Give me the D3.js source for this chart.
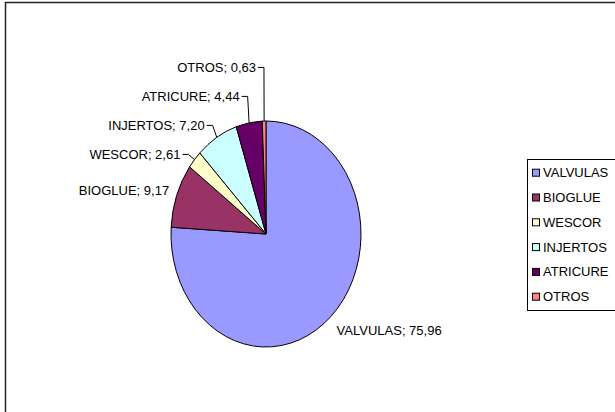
<!DOCTYPE html>
<html>
<head>
<meta charset="utf-8">
<script src="https://cdn.jsdelivr.net/npm/d3@7"></script>
<style>
  body { margin: 0; background: #fff; }
  text { font-family: "Liberation Sans", Arial, sans-serif; font-size: 13px; fill: #000; }
</style>
</head>
<body>
<div id="chart"></div>
<script>
const categories = ["VALVULAS", "BIOGLUE", "WESCOR", "INJERTOS", "ATRICURE", "OTROS"];
const values = [75.96, 9.17, 2.61, 7.20, 4.44, 0.63];
const colors = ["#9999FF", "#993366", "#FFFFCC", "#CCFFFF", "#660066", "#FF8080"];

const width = 615;
const height = 412;
const cx = 266, cy = 234;
const rx = 95, ry = 113;

const svg = d3.select("#chart")
    .append("svg")
    .attr("width", width)
    .attr("height", height);

// chart area frame (right/bottom edges fall outside the picture)
svg.append("rect")
    .attr("x", 5.5)
    .attr("y", 2.5)
    .attr("width", 620)
    .attr("height", 420)
    .attr("fill", "none")
    .attr("stroke", "#222")
    .attr("stroke-width", 1.5);

const df = categories.map((c, i) => ({ cat: c, value: values[i], color: colors[i] }));

const pie = d3.pie().sort(null).value(d => d.value);
const arcs = pie(df);
const arc = d3.arc().innerRadius(0).outerRadius(ry);

svg.append("g")
    .attr("transform", `translate(${cx},${cy}) scale(${rx / ry},1)`)
    .selectAll("path")
    .data(arcs)
    .join("path")
    .attr("d", arc)
    .attr("fill", d => d.data.color)
    .attr("stroke", "#000")
    .attr("stroke-width", 1)
    .attr("vector-effect", "non-scaling-stroke");

const fmt = v => v.toFixed(2).replace(".", ",");

// labels
const labels = arcs.map(a => {
    const mid = (a.startAngle + a.endAngle) / 2;
    const s = Math.sin(mid), c = Math.cos(mid);
    const ex = cx + rx * s, ey = cy - ry * c;
    const ax = ex + 8 * s, ay = ey - 8 * c;
    return { a, s, c, ex, ey, ax, ay, moved: a.data.value < 8, left: s < 0 };
});

// stack the moved labels upward so they don't collide
let prevY = Infinity;
labels.filter(l => l.moved)
    .sort((p, q) => q.ay - p.ay)
    .forEach(l => {
        l.y = Math.min(l.ay, prevY - 29);
        prevY = l.y;
    });

const lab = svg.append("g");

labels.forEach(l => {
    const txt = `${l.a.data.cat}; ${fmt(l.a.data.value)}`;
    if (l.moved) {
        lab.append("polyline")
            .attr("points", [[l.ex, l.ey], [l.ax, l.y], [l.ax - 6, l.y]].map(p => p.join(",")).join(" "))
            .attr("fill", "none")
            .attr("stroke", "#000")
            .attr("stroke-width", 1);
        lab.append("text")
            .attr("x", l.ax - 8)
            .attr("y", l.y)
            .attr("dy", "0.35em")
            .attr("text-anchor", "end")
            .text(txt);
    } else {
        lab.append("text")
            .attr("x", l.ax)
            .attr("y", l.ay - l.c * 10 + 1.5)
            .attr("dy", "0.35em")
            .attr("text-anchor", l.left ? "end" : "start")
            .text(txt);
    }
});

// legend
const legend = svg.append("g").attr("transform", "translate(527,159)");

legend.append("rect")
    .attr("x", 0.5)
    .attr("y", 0.5)
    .attr("width", 100)
    .attr("height", 151)
    .attr("fill", "#fff")
    .attr("stroke", "#000")
    .attr("stroke-width", 1);

const ly = d3.scaleLinear().domain([0, 1]).range([13.7, 38.5]);

legend.selectAll("rect.sw")
    .data(df)
    .join("rect")
    .attr("class", "sw")
    .attr("x", 5.5)
    .attr("y", (_, i) => ly(i) - 3.5)
    .attr("width", 7)
    .attr("height", 7)
    .attr("fill", d => d.color)
    .attr("stroke", "#000")
    .attr("stroke-width", 1);

legend.selectAll("text")
    .data(df)
    .join("text")
    .attr("x", 16)
    .attr("y", (_, i) => ly(i))
    .attr("dy", "0.35em")
    .text(d => d.cat);
</script>
</body>
</html>
